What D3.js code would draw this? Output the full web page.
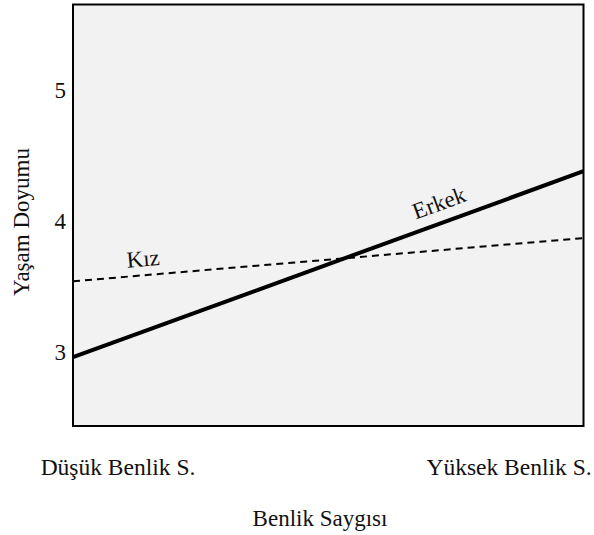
<!DOCTYPE html>
<html>
<head>
	<title>benlik-saygisi</title>
	<meta charset="utf-8">
	<style type="text/css">
		body { margin: 0; background: #fff; }
		text { font-family: "Liberation Serif", "Times New Roman", serif; fill: #111; }
	</style>
</head>
<body>

<script type="text/javascript" src="https://cdn.jsdelivr.net/npm/d3@7"></script>
<script type="text/javascript">
	/*=========DATA=========*/
	var categories = ["Düşük Benlik S.", "Yüksek Benlik S."];
	var erkek = [2.96, 4.38];
	var kiz = [3.54, 3.87];
	var yTicks = [3, 4, 5];

	/*=====SIZE SVG======*/
	var w = 594;
	var h = 535;
	var svg = d3.select("body").append("svg").attr("width", w).attr("height", h);

	// plot box edges (window.top is reserved, so no "top" here)
	var pL = 73, pR = 583.5, pT = 4.5, pB = 426;

	/*=========SCALES=========*/
	var x = d3.scaleLinear().domain([0, categories.length - 1]).range([pL, pR]);
	var xLab = d3.scalePoint().domain(categories).range([118, 509]);
	var y = d3.scaleLinear().domain([2.435, 5.653]).range([pB, pT]);

	// plot area
	svg.append("rect")
		.attr("x", pL).attr("y", pT)
		.attr("width", pR - pL).attr("height", pB - pT)
		.attr("fill", "#f2f2f2")
		.attr("stroke", "#000")
		.attr("stroke-width", 2);

	// y tick labels
	svg.selectAll("text.ytick")
		.data(yTicks)
		.enter()
		.append("text")
		.attr("class", "ytick")
		.attr("x", pL - 7)
		.attr("y", function(d){ return y(d); })
		.attr("dy", "0.35em")
		.attr("text-anchor", "end")
		.style("font-size", "23px")
		.text(function(d){ return d; });

	// x category labels
	svg.selectAll("text.xcat")
		.data(categories)
		.enter()
		.append("text")
		.attr("class", "xcat")
		.attr("x", function(d){ return xLab(d); })
		.attr("y", 475)
		.attr("text-anchor", "middle")
		.style("font-size", "23.5px")
		.text(function(d){ return d; });

	// axis titles
	svg.append("text")
		.attr("x", 320).attr("y", 526)
		.attr("text-anchor", "middle")
		.style("font-size", "23px")
		.text("Benlik Saygısı");

	svg.append("text")
		.attr("transform", "translate(29,222) rotate(-90)")
		.attr("text-anchor", "middle")
		.style("font-size", "23px")
		.text("Yaşam Doyumu");

	/*=========LINES=========*/
	var line = d3.line()
		.x(function(d, i){ return x(i); })
		.y(function(d){ return y(d); });

	svg.append("path")
		.attr("d", line(kiz))
		.attr("fill", "none")
		.attr("stroke", "#000")
		.attr("stroke-width", 2)
		.attr("stroke-dasharray", "7,5");

	svg.append("path")
		.attr("d", line(erkek))
		.attr("fill", "none")
		.attr("stroke", "#000")
		.attr("stroke-width", 4);

	// labels along the lines
	function lineLabel(vals, t, name, off){
		var x0 = x(0), x1 = x(1), y0 = y(vals[0]), y1 = y(vals[1]);
		var px = x0 + (x1 - x0) * t, py = y0 + (y1 - y0) * t;
		var ang = Math.atan2(y1 - y0, x1 - x0) * 180 / Math.PI;
		svg.append("text")
			.attr("transform", "translate(" + px + "," + py + ") rotate(" + ang + ")")
			.attr("y", off)
			.attr("text-anchor", "middle")
			.style("font-size", "23px")
			.text(name);
	}
	lineLabel(kiz, 0.14, "Kız", -9);
	lineLabel(erkek, 0.73, "Erkek", -12);
</script>
</body>
</html>
